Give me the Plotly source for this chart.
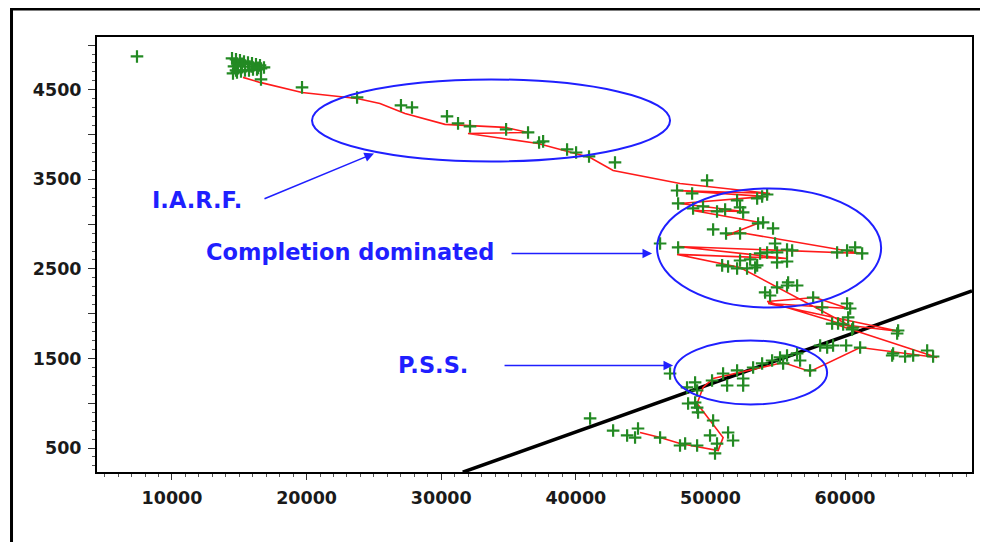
import plotly.graph_objects as go

# ---- data ----
green_x = [7400,
           14460, 14755, 15052, 15350, 15647, 15944, 16241, 16538, 16836,
           14532, 14830, 15127, 15424, 15721, 16018, 16316, 16613,
           14607, 14904, 14755, 15200, 15900, 16400,
           16613, 19660, 23750, 27010, 27830, 30430, 31250, 32140, 34820, 36450,
           37270, 37570, 39350, 40020, 40980, 42910,
           49750, 47520, 48640, 47600, 48710, 49450, 50490, 51090, 51980, 52200,
           52430, 53470, 53840, 54210, 53540, 53910, 54650, 50200, 51160, 52200,
           46260, 47600, 54800, 53690, 54210, 54950, 55690, 56070, 52200, 52950,
           53470, 50870, 51310, 51980, 52720, 53320, 54950, 55690, 59410, 60150,
           60750, 61270, 54950, 55690, 56440, 55770, 54060, 54430, 57630, 58300,
           60150, 60380, 60230, 59040, 59860, 60600, 63870, 63570, 61120,
           59480, 60520, 63940, 63500, 64460, 65060, 66100, 66540,
           58150, 58670, 59110, 60080,
           47000, 48260, 48860, 49010, 50120, 50940, 51240, 51980, 52430, 52430,
           53170, 53840, 54580, 55170, 55690, 56440, 56660, 57400, 55400,
           48340, 48860, 49010, 49080, 50200, 49970, 51310, 51680, 50490, 50340,
           49010, 48120, 47740, 46260, 44620, 44400, 43810, 42770, 41060]
green_y = [4873,
           4851, 4840, 4829, 4817, 4806, 4795, 4784, 4773, 4750,
           4683, 4695, 4706, 4717, 4717, 4728, 4728, 4739,
           4762, 4773, 4717, 4790, 4760, 4745,
           4616, 4527, 4415, 4326, 4303, 4203, 4125, 4092, 4058, 4024,
           3912, 3924, 3834, 3800, 3756, 3689,
           3488, 3376, 3343, 3231, 3175, 3198, 3142, 3164, 3265, 3187,
           3131, 3287, 3309, 3331, 3008, 3019, 2952, 2941, 2896, 2896,
           2784, 2740, 2784, 2673, 2684, 2684, 2717, 2706, 2594, 2606,
           2539, 2539, 2527, 2505, 2505, 2516, 2572, 2583, 2684, 2706,
           2740, 2673, 2293, 2315, 2315, 2349, 2237, 2203, 2181, 2069,
           2114, 2058, 1958, 1890, 1879, 1846, 1779, 1556, 1622,
           1890, 1824, 1812, 1533, 1522, 1533, 1589, 1522,
           1645, 1622, 1645, 1645,
           1332, 1176, 1232, 1142, 1254, 1332, 1198, 1366, 1276, 1198,
           1399, 1444, 1477, 1511, 1533, 1556, 1477, 1366, 1444,
           997, 1008, 952, 897, 807, 640, 673, 584, 550, 439,
           528, 550, 528, 617, 718, 617, 640, 695, 830]

red_x = [15275, 16538, 19660, 23750, 25450, 27310, 30280, 31550, 34740, 36450,
         31990, 37190, 39200, 41060, 42770, 47740, 54430, 47520, 54130, 47740,
         52430, 48710, 53690, 51160, 52200, 61270, 47520, 55690, 47520, 52200,
         60600, 54210, 57775, 60230, 54280, 64090, 59110, 66840, 61120, 57400,
         55400, 50200, 49450, 49010, 50940, 50570, 47740, 46260, 44770]
red_y = [4639, 4583, 4471, 4404, 4348, 4236, 4114, 4103, 4081, 4024,
         4013, 3901, 3823, 3745, 3600, 3454, 3343, 3376, 3309, 3231,
         3142, 3153, 3019, 2874, 2907, 2673, 2751, 2617, 2662, 2516,
         1846, 2136, 2181, 2058, 2114, 1801, 1890, 1511, 1622, 1355,
         1455, 1276, 1176, 997, 617, 472, 550, 617, 673]

trend_x = [31600, 69430]
trend_y = [230, 2255]

x_range = [4430, 69430]
y_range = [232, 5090]
x_tickvals = [10000, 20000, 30000, 40000, 50000, 60000]
x_ticktext = ["10000", "20000", "30000", "40000", "50000", "60000"]
y_tickvals = [500, 1000, 1500, 2000, 2500, 3000, 3500, 4000, 4500, 5000]
y_ticktext = ["500", "", "1500", "", "2500", "", "3500", "", "4500", ""]

labels = ["I.A.R.F.", "Completion dominated", "P.S.S."]
label_x = [11858, 23225, 29392]
label_y = [3265, 2684, 1422]
arrow_tail_x = [16761, 35113, 34593]
arrow_tail_y = [3276, 2673, 1422]
arrow_head_x = [25009, 45664, 47224]
arrow_head_y = [3790, 2673, 1422]
ellipse_x0 = [20402, 46036, 47299]
ellipse_x1 = [47001, 62679, 58667]
ellipse_y0 = [3700, 2069, 986]
ellipse_y1 = [4616, 3399, 1701]

BLUE = "#1f1fff"
GREEN = "#238a23"
RED = "#ff1a1a"
TICKFONT = dict(family="DejaVu Sans", size=17.5, color="#1a1a1a", weight="bold")

fig = go.Figure()
fig.add_trace(go.Scatter(x=trend_x, y=trend_y, mode="lines",
                         line=dict(color="black", width=3.5), hoverinfo="skip"))
fig.add_trace(go.Scatter(x=red_x, y=red_y, mode="lines",
                         line=dict(color=RED, width=1.6)))
fig.add_trace(go.Scatter(x=green_x, y=green_y, mode="markers",
                         marker=dict(symbol="cross-thin", size=9,
                                     line=dict(color=GREEN, width=2.2))))

for i in range(3):
    fig.add_shape(type="circle", xref="x", yref="y",
                  x0=ellipse_x0[i], x1=ellipse_x1[i],
                  y0=ellipse_y0[i], y1=ellipse_y1[i],
                  line=dict(color=BLUE, width=2))
    fig.add_annotation(x=arrow_head_x[i], y=arrow_head_y[i],
                       ax=arrow_tail_x[i], ay=arrow_tail_y[i],
                       xref="x", yref="y", axref="x", ayref="y",
                       showarrow=True, arrowhead=2, arrowsize=1.2,
                       arrowwidth=1.6, arrowcolor=BLUE, text="")
    fig.add_annotation(x=label_x[i], y=label_y[i], xref="x", yref="y",
                       text=labels[i], showarrow=False,
                       font=dict(family="DejaVu Sans", size=22.5, color=BLUE,
                                 weight="bold"))

# outer picture frame
fig.add_shape(type="rect", xref="paper", yref="paper",
              x0=-0.0977, x1=1.0154, y0=-0.2023, y1=1.0644,
              line=dict(color="black", width=3), layer="above")

fig.update_xaxes(range=x_range, tickvals=x_tickvals, ticktext=x_ticktext,
                 ticks="outside", ticklen=6, tickwidth=1, tickcolor="#333",
                 ticklabelstandoff=3,
                 minor=dict(dtick=1000, tick0=0, ticks="outside", ticklen=3,
                            tickcolor="#555"),
                 showline=True, linecolor="black", linewidth=2, mirror=True,
                 showgrid=False, zeroline=False, tickfont=TICKFONT)
fig.update_yaxes(range=y_range, tickvals=y_tickvals, ticktext=y_ticktext,
                 ticks="outside", ticklen=7, tickwidth=1, tickcolor="#333",
                 ticklabelstandoff=3,
                 minor=dict(dtick=100, tick0=0, ticks="outside", ticklen=3,
                            tickcolor="#555"),
                 showline=True, linecolor="black", linewidth=2, mirror=True,
                 showgrid=False, zeroline=False, tickfont=TICKFONT)

# the page body has an 8px margin, so the figure sits at (8, 8)
fig.update_layout(width=980, height=534,
                  margin=dict(l=89, r=16, t=29, b=70),
                  plot_bgcolor="white", paper_bgcolor="white",
                  showlegend=False)

fig.write_html("out.html")
